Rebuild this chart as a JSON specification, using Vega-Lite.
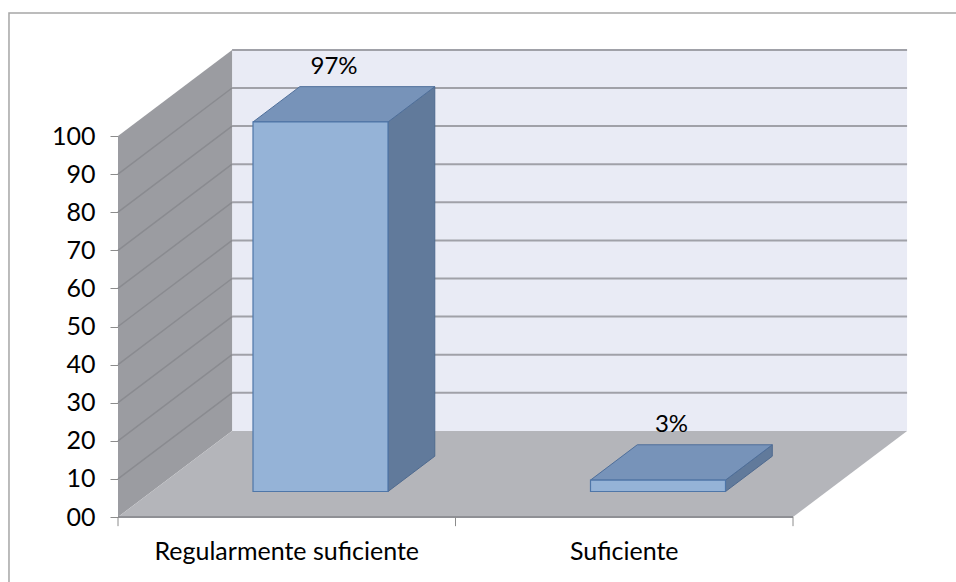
{
  "$schema": "https://vega.github.io/schema/vega-lite/v6.json",
  "width": 838,
  "height": 582,
  "autosize": "none",
  "padding": {"left": 118, "top": 0, "right": 0, "bottom": 0},
  "background": "white",
  "config": {
    "view": {"stroke": null},
    "font": "Lato",
    "axisY": {"tickSize": 8, "tickColor": "#8c8c8c", "tickWidth": 1, "domain": false, "grid": false, "labelFont": "Lato", "labelFontSize": 25, "labelColor": "#000000", "labelPadding": 15}
  },
  "datasets": {
    "bars": [
      {"category": "Regularmente suficiente", "value": 97},
      {"category": "Suficiente", "value": 3}
    ],
    "grid": [{"v": 10}, {"v": 20}, {"v": 30}, {"v": 40}, {"v": 50}, {"v": 60}, {"v": 70}, {"v": 80}, {"v": 90}, {"v": 100}],
    "depth": [{"d": 0}, {"d": 1}],
    "ticks": [{"t": 0}, {"t": 1}, {"t": 2}]
  },
  "layer": [
    {
      "data": {"values": [{}]},
      "mark": {"type": "rect", "filled": false, "color": "#a6a6a6", "strokeWidth": 1.5, "clip": false},
      "encoding": {
        "x": {"datum": -0.323, "type": "quantitative", "scale": {"domain": [0, 2.48296], "nice": false, "zero": false}, "axis": null},
        "x2": {"datum": 2.6},
        "y": {"datum": 132.28, "type": "quantitative", "scale": {"domain": [-17.0604, 135.696], "nice": false, "zero": false}, "axis": {"values": [0, 10, 20, 30, 40, 50, 60, 70, 80, 90, 100], "format": "02d", "title": null}},
        "y2": {"datum": -20}
      }
    },
    {
      "data": {"values": [{}]},
      "mark": {"type": "rect", "color": "#e9ebf5"},
      "encoding": {
        "x": {"datum": 0.338, "type": "quantitative", "axis": null},
        "x2": {"datum": 2.338},
        "y": {"datum": 22.6, "type": "quantitative", "axis": {"values": [0, 10, 20, 30, 40, 50, 60, 70, 80, 90, 100], "format": "02d", "title": null}},
        "y2": {"datum": 122.6}
      }
    },
    {
      "data": {"name": "grid"},
      "transform": [{"calculate": "datum.v + 22.6", "as": "gv"}],
      "mark": {"type": "rule", "color": "#a0a1a8", "strokeWidth": 2},
      "encoding": {
        "x": {"datum": 0.338, "type": "quantitative", "axis": null},
        "x2": {"datum": 2.338},
        "y": {"field": "gv", "type": "quantitative", "axis": {"values": [0, 10, 20, 30, 40, 50, 60, 70, 80, 90, 100], "format": "02d", "title": null}}
      }
    },
    {
      "data": {"name": "depth"},
      "transform": [
        {"calculate": "datum.d * 0.338", "as": "wx"},
        {"calculate": "datum.d * 22.6", "as": "wy0"},
        {"calculate": "datum.d * 22.6 + 100", "as": "wy1"}
      ],
      "mark": {"type": "area", "orient": "vertical", "color": "#9b9ca1"},
      "encoding": {
        "x": {"field": "wx", "type": "quantitative", "axis": null},
        "y": {"field": "wy0", "type": "quantitative", "stack": null, "axis": {"values": [0, 10, 20, 30, 40, 50, 60, 70, 80, 90, 100], "format": "02d", "title": null}},
        "y2": {"field": "wy1"}
      }
    },
    {
      "data": {"name": "grid"},
      "transform": [
        {"filter": "datum.v < 100"},
        {"calculate": "datum.v + 22.6", "as": "gv"}
      ],
      "mark": {"type": "rule", "color": "#8a8b90", "strokeWidth": 1.5},
      "encoding": {
        "x": {"datum": 0, "type": "quantitative", "axis": null},
        "x2": {"datum": 0.338},
        "y": {"field": "v", "type": "quantitative", "axis": {"values": [0, 10, 20, 30, 40, 50, 60, 70, 80, 90, 100], "format": "02d", "title": null}},
        "y2": {"field": "gv"}
      }
    },
    {
      "data": {"name": "depth"},
      "transform": [
        {"calculate": "datum.d * 0.338", "as": "fx0"},
        {"calculate": "2 + datum.d * 0.338", "as": "fx1"},
        {"calculate": "datum.d * 22.6", "as": "fy"}
      ],
      "mark": {"type": "area", "orient": "horizontal", "color": "#b4b5ba"},
      "encoding": {
        "y": {"field": "fy", "type": "quantitative", "axis": {"values": [0, 10, 20, 30, 40, 50, 60, 70, 80, 90, 100], "format": "02d", "title": null}},
        "x": {"field": "fx0", "type": "quantitative", "axis": null, "stack": null},
        "x2": {"field": "fx1"}
      }
    },
    {
      "data": {"values": [{}]},
      "mark": {"type": "rule", "color": "#8f9095", "strokeWidth": 2},
      "encoding": {
        "x": {"datum": 0, "type": "quantitative", "axis": null},
        "x2": {"datum": 2},
        "y": {"datum": 0, "type": "quantitative", "axis": {"values": [0, 10, 20, 30, 40, 50, 60, 70, 80, 90, 100], "format": "02d", "title": null}}
      }
    },
    {
      "data": {"name": "ticks"},
      "mark": {"type": "rule", "color": "#8c8c8c", "strokeWidth": 1},
      "encoding": {
        "x": {"field": "t", "type": "quantitative", "axis": null},
        "y": {"datum": 0, "type": "quantitative", "axis": {"values": [0, 10, 20, 30, 40, 50, 60, 70, 80, 90, 100], "format": "02d", "title": null}},
        "y2": {"datum": -2.4}
      }
    },
    {
      "data": {"name": "bars"},
      "transform": [
        {"calculate": "indexof(['Regularmente suficiente','Suficiente'], datum.category)", "as": "i"},
        {"calculate": "[0.296, 0.706]", "as": "d"},
        {"flatten": ["d"]},
        {"calculate": "datum.i + 0.7 + datum.d * 0.338", "as": "sx"},
        {"calculate": "datum.d * 22.6", "as": "sy0"},
        {"calculate": "datum.d * 22.6 + datum.value", "as": "sy1"}
      ],
      "mark": {"type": "area", "orient": "vertical", "color": "#617a9b", "stroke": "#4f6a8f", "strokeWidth": 1},
      "encoding": {
        "x": {"field": "sx", "type": "quantitative", "axis": null},
        "y": {"field": "sy0", "type": "quantitative", "stack": null, "axis": {"values": [0, 10, 20, 30, 40, 50, 60, 70, 80, 90, 100], "format": "02d", "title": null}},
        "y2": {"field": "sy1"},
        "detail": {"field": "category"}
      }
    },
    {
      "data": {"name": "bars"},
      "transform": [
        {"calculate": "indexof(['Regularmente suficiente','Suficiente'], datum.category)", "as": "i"},
        {"calculate": "[0.296, 0.706]", "as": "d"},
        {"flatten": ["d"]},
        {"calculate": "datum.i + 0.3 + datum.d * 0.338", "as": "tx0"},
        {"calculate": "datum.i + 0.7 + datum.d * 0.338", "as": "tx1"},
        {"calculate": "datum.d * 22.6 + datum.value", "as": "ty"}
      ],
      "mark": {"type": "area", "orient": "horizontal", "color": "#7793b9", "stroke": "#4f6f9a", "strokeWidth": 1},
      "encoding": {
        "y": {"field": "ty", "type": "quantitative", "axis": {"values": [0, 10, 20, 30, 40, 50, 60, 70, 80, 90, 100], "format": "02d", "title": null}},
        "x": {"field": "tx0", "type": "quantitative", "axis": null, "stack": null},
        "x2": {"field": "tx1"},
        "detail": {"field": "category"}
      }
    },
    {
      "data": {"name": "bars"},
      "transform": [
        {"calculate": "indexof(['Regularmente suficiente','Suficiente'], datum.category)", "as": "i"},
        {"calculate": "datum.i + 0.4", "as": "bx0"},
        {"calculate": "datum.i + 0.8", "as": "bx1"},
        {"calculate": "0.296 * 22.6", "as": "by0"},
        {"calculate": "0.296 * 22.6 + datum.value", "as": "by1"}
      ],
      "mark": {"type": "rect", "color": "#95b3d7", "stroke": "#4f76a8", "strokeWidth": 1.2},
      "encoding": {
        "x": {"field": "bx0", "type": "quantitative", "axis": null},
        "x2": {"field": "bx1"},
        "y": {"field": "by0", "type": "quantitative", "axis": {"values": [0, 10, 20, 30, 40, 50, 60, 70, 80, 90, 100], "format": "02d", "title": null}},
        "y2": {"field": "by1"}
      }
    },
    {
      "data": {"name": "bars"},
      "transform": [
        {"calculate": "indexof(['Regularmente suficiente','Suficiente'], datum.category)", "as": "i"},
        {"calculate": "datum.i + 0.5 + 0.14", "as": "lx"},
        {"calculate": "datum.value + 0.706 * 22.6", "as": "ly"},
        {"calculate": "datum.value + '%'", "as": "label"}
      ],
      "mark": {"type": "text", "fontSize": 24, "font": "Lato", "color": "#000000", "baseline": "middle", "align": "center", "dy": -20},
      "encoding": {
        "x": {"field": "lx", "type": "quantitative", "axis": null},
        "y": {"field": "ly", "type": "quantitative", "axis": {"values": [0, 10, 20, 30, 40, 50, 60, 70, 80, 90, 100], "format": "02d", "title": null}},
        "text": {"field": "label"}
      }
    },
    {
      "data": {"name": "bars"},
      "transform": [
        {"calculate": "indexof(['Regularmente suficiente','Suficiente'], datum.category)", "as": "i"},
        {"calculate": "datum.i + 0.5", "as": "cx"}
      ],
      "mark": {"type": "text", "fontSize": 25, "font": "Lato", "color": "#000000", "baseline": "middle", "align": "center"},
      "encoding": {
        "x": {"field": "cx", "type": "quantitative", "axis": null},
        "y": {"datum": -9.19, "type": "quantitative", "axis": {"values": [0, 10, 20, 30, 40, 50, 60, 70, 80, 90, 100], "format": "02d", "title": null}},
        "text": {"field": "category"}
      }
    }
  ]
}
